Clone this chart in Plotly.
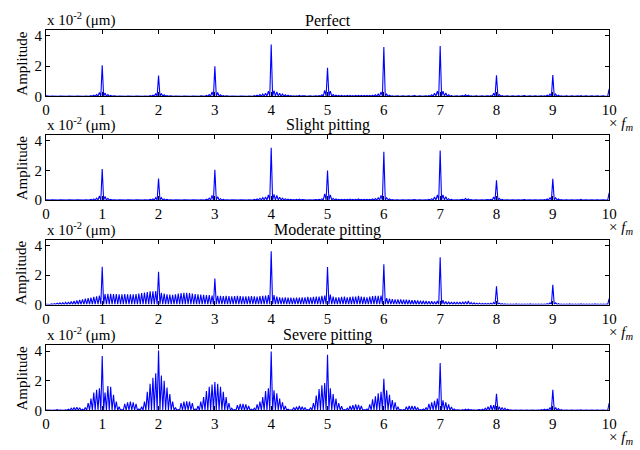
import numpy as np
import plotly.graph_objects as go

# Spectrum sampled at the sideband spacing (multiples of the mesh frequency f_m)
STEP = 0.05
FREQ = np.round(np.arange(201) * STEP, 3)
FLOOR = 0.01  # level the trace returns to between neighbouring sidebands

TITLES = ["Perfect", "Slight pitting", "Moderate pitting", "Severe pitting"]
X_TICKS = list(range(0, 11))
Y_TICKS = [0, 2, 4]

# Sideband peak amplitudes (x 10^-2 um), one row per mesh order
perfect = [
    0.03, 0.02, 0.02, 0.02, 0.02, 0.02, 0.02, 0.02, 0.02, 0.02, 0.02, 0.02, 0.02, 0.03, 0.02, 0.03, 0.05, 0.08, 0.12, 0.25,
    2.05, 0.22, 0.12, 0.06, 0.03, 0.02, 0.02, 0.02, 0.02, 0.02, 0.02, 0.02, 0.02, 0.02, 0.02, 0.02, 0.03, 0.05, 0.08, 0.18,
    1.38, 0.18, 0.10, 0.05, 0.03, 0.02, 0.02, 0.02, 0.02, 0.02, 0.02, 0.02, 0.02, 0.02, 0.02, 0.03, 0.04, 0.06, 0.12, 0.30,
    1.98, 0.25, 0.10, 0.05, 0.03, 0.02, 0.02, 0.02, 0.02, 0.02, 0.02, 0.02, 0.02, 0.03, 0.05, 0.08, 0.12, 0.15, 0.20, 0.35,
    3.42, 0.38, 0.30, 0.20, 0.15, 0.10, 0.08, 0.05, 0.04, 0.04, 0.06, 0.04, 0.03, 0.03, 0.03, 0.03, 0.04, 0.05, 0.10, 0.40,
    1.88, 0.35, 0.12, 0.08, 0.06, 0.06, 0.05, 0.06, 0.06, 0.05, 0.06, 0.07, 0.06, 0.06, 0.07, 0.06, 0.08, 0.10, 0.15, 0.30,
    3.25, 0.15, 0.08, 0.04, 0.03, 0.03, 0.03, 0.03, 0.03, 0.03, 0.03, 0.06, 0.03, 0.03, 0.03, 0.03, 0.05, 0.10, 0.20, 0.35,
    3.32, 0.35, 0.22, 0.10, 0.05, 0.03, 0.03, 0.03, 0.05, 0.10, 0.08, 0.04, 0.03, 0.03, 0.03, 0.03, 0.03, 0.04, 0.05, 0.20,
    1.39, 0.12, 0.05, 0.03, 0.03, 0.03, 0.03, 0.03, 0.03, 0.03, 0.05, 0.03, 0.03, 0.03, 0.03, 0.03, 0.03, 0.04, 0.08, 0.15,
    1.40, 0.15, 0.08, 0.04, 0.03, 0.03, 0.03, 0.03, 0.03, 0.03, 0.05, 0.03, 0.03, 0.03, 0.03, 0.03, 0.03, 0.03, 0.03, 0.03,
    0.50,
]

slight = [
    0.03, 0.02, 0.02, 0.02, 0.02, 0.02, 0.02, 0.02, 0.02, 0.02, 0.02, 0.02, 0.02, 0.02, 0.03, 0.03, 0.05, 0.09, 0.14, 0.28,
    2.10, 0.25, 0.13, 0.06, 0.03, 0.02, 0.02, 0.02, 0.02, 0.02, 0.02, 0.02, 0.02, 0.02, 0.02, 0.02, 0.03, 0.05, 0.08, 0.17,
    1.46, 0.17, 0.09, 0.05, 0.03, 0.02, 0.02, 0.02, 0.02, 0.02, 0.02, 0.02, 0.02, 0.02, 0.02, 0.03, 0.04, 0.07, 0.14, 0.32,
    2.06, 0.24, 0.10, 0.05, 0.03, 0.02, 0.02, 0.02, 0.02, 0.02, 0.02, 0.02, 0.02, 0.03, 0.05, 0.08, 0.13, 0.17, 0.22, 0.36,
    3.54, 0.40, 0.32, 0.20, 0.14, 0.10, 0.07, 0.05, 0.04, 0.05, 0.07, 0.04, 0.03, 0.03, 0.03, 0.03, 0.04, 0.05, 0.10, 0.42,
    2.00, 0.36, 0.12, 0.08, 0.06, 0.05, 0.05, 0.06, 0.07, 0.05, 0.06, 0.08, 0.06, 0.06, 0.06, 0.06, 0.08, 0.11, 0.16, 0.32,
    3.27, 0.16, 0.08, 0.04, 0.03, 0.03, 0.03, 0.03, 0.03, 0.03, 0.03, 0.05, 0.03, 0.03, 0.03, 0.03, 0.05, 0.10, 0.22, 0.36,
    3.36, 0.36, 0.23, 0.10, 0.05, 0.03, 0.03, 0.03, 0.06, 0.12, 0.08, 0.04, 0.03, 0.03, 0.03, 0.03, 0.03, 0.04, 0.06, 0.22,
    1.34, 0.12, 0.05, 0.03, 0.03, 0.03, 0.03, 0.03, 0.03, 0.03, 0.05, 0.03, 0.03, 0.03, 0.03, 0.03, 0.03, 0.04, 0.08, 0.16,
    1.44, 0.16, 0.08, 0.04, 0.03, 0.03, 0.03, 0.03, 0.03, 0.03, 0.05, 0.03, 0.03, 0.03, 0.03, 0.03, 0.03, 0.03, 0.03, 0.03,
    0.50,
]

moderate = [
    0.02, 0.03, 0.05, 0.07, 0.10, 0.12, 0.14, 0.16, 0.18, 0.21, 0.25, 0.28, 0.32, 0.36, 0.40, 0.44, 0.48, 0.52, 0.57, 0.62,
    2.57, 0.72, 0.74, 0.73, 0.72, 0.72, 0.70, 0.70, 0.72, 0.70, 0.70, 0.70, 0.72, 0.75, 0.78, 0.82, 0.86, 0.90, 0.90, 0.92,
    2.24, 0.80, 0.75, 0.70, 0.68, 0.66, 0.70, 0.75, 0.78, 0.80, 0.80, 0.78, 0.75, 0.72, 0.70, 0.68, 0.66, 0.65, 0.64, 0.62,
    1.77, 0.60, 0.60, 0.58, 0.60, 0.58, 0.57, 0.58, 0.60, 0.58, 0.57, 0.56, 0.56, 0.58, 0.56, 0.55, 0.58, 0.60, 0.62, 0.65,
    3.62, 0.65, 0.55, 0.50, 0.48, 0.50, 0.48, 0.47, 0.46, 0.48, 0.48, 0.50, 0.50, 0.52, 0.50, 0.52, 0.55, 0.55, 0.60, 0.62,
    2.55, 0.68, 0.55, 0.50, 0.50, 0.52, 0.55, 0.50, 0.52, 0.55, 0.55, 0.60, 0.55, 0.52, 0.50, 0.55, 0.58, 0.60, 0.60, 0.62,
    2.75, 0.45, 0.40, 0.38, 0.36, 0.35, 0.35, 0.34, 0.33, 0.32, 0.30, 0.30, 0.28, 0.27, 0.26, 0.25, 0.24, 0.23, 0.22, 0.25,
    3.22, 0.30, 0.22, 0.20, 0.18, 0.18, 0.18, 0.18, 0.20, 0.22, 0.25, 0.15, 0.12, 0.10, 0.10, 0.08, 0.08, 0.08, 0.10, 0.15,
    1.24, 0.10, 0.06, 0.05, 0.04, 0.04, 0.04, 0.05, 0.04, 0.04, 0.04, 0.04, 0.05, 0.04, 0.04, 0.04, 0.04, 0.04, 0.06, 0.12,
    1.35, 0.12, 0.06, 0.04, 0.04, 0.04, 0.05, 0.04, 0.04, 0.04, 0.05, 0.04, 0.04, 0.04, 0.04, 0.05, 0.04, 0.04, 0.04, 0.04,
    0.40,
]

severe = [
    0.02, 0.02, 0.02, 0.03, 0.05, 0.03, 0.02, 0.04, 0.08, 0.15, 0.20, 0.22, 0.18, 0.08, 0.20, 0.50, 0.80, 1.20, 1.40, 1.50,
    3.67, 1.20, 1.65, 1.60, 1.05, 0.60, 0.25, 0.05, 0.45, 0.55, 0.60, 0.55, 0.45, 0.10, 0.25, 0.60, 1.25, 1.80, 2.20, 2.50,
    4.05, 2.35, 2.00, 1.55, 1.10, 0.60, 0.20, 0.05, 0.50, 0.60, 0.62, 0.60, 0.50, 0.10, 0.30, 0.60, 0.90, 1.30, 1.60, 1.75,
    1.92, 1.80, 1.60, 1.25, 0.90, 0.50, 0.15, 0.05, 0.35, 0.45, 0.45, 0.40, 0.30, 0.08, 0.15, 0.40, 0.60, 0.90, 1.30, 1.50,
    3.97, 1.35, 1.15, 0.80, 0.55, 0.30, 0.08, 0.04, 0.20, 0.25, 0.30, 0.25, 0.20, 0.05, 0.20, 0.50, 1.00, 1.45, 1.70, 1.85,
    3.75, 1.50, 1.10, 0.80, 0.50, 0.28, 0.05, 0.15, 0.30, 0.35, 0.40, 0.38, 0.30, 0.05, 0.10, 0.40, 0.75, 0.95, 1.15, 1.25,
    2.14, 1.35, 1.05, 0.70, 0.55, 0.25, 0.05, 0.05, 0.25, 0.30, 0.30, 0.28, 0.20, 0.05, 0.10, 0.20, 0.45, 0.55, 0.65, 0.80,
    3.20, 0.68, 0.55, 0.40, 0.24, 0.10, 0.04, 0.03, 0.06, 0.08, 0.08, 0.06, 0.04, 0.03, 0.05, 0.08, 0.15, 0.25, 0.35, 0.35,
    1.12, 0.25, 0.20, 0.15, 0.08, 0.04, 0.03, 0.03, 0.03, 0.03, 0.03, 0.03, 0.03, 0.03, 0.03, 0.03, 0.05, 0.08, 0.08, 0.20,
    1.39, 0.20, 0.12, 0.05, 0.03, 0.03, 0.03, 0.03, 0.03, 0.03, 0.04, 0.03, 0.03, 0.03, 0.03, 0.03, 0.03, 0.03, 0.03, 0.03,
    0.50,
]

SERIES = [perfect, slight, moderate, severe]

W, H = 640, 450
PLOT_LEFT, PLOT_RIGHT = 42.7, 616.7
PANEL_PX = [(28.3, 96.5), (136.0, 202.7), (243.3, 309.5), (351.0, 417.7)]
FONT = "Liberation Serif, Times New Roman, serif"


def spike_trace(peaks):
    xs, ys = [], []
    n = len(peaks)
    for i in range(n):
        xs.append(FREQ[i])
        ys.append(peaks[i])
        if i < n - 1:
            xs.append(FREQ[i] + STEP / 2)
            ys.append(FLOOR)
    return xs, ys


fig = go.Figure()
layout = dict(
    width=W, height=H,
    margin=dict(l=0, r=0, t=0, b=0),
    paper_bgcolor="white", plot_bgcolor="white",
    showlegend=False,
    font=dict(family=FONT, size=15, color="black"),
)
annotations = []

for i, (peaks, title) in enumerate(zip(SERIES, TITLES)):
    n = i + 1
    xa = "x" if n == 1 else f"x{n}"
    ya = "y" if n == 1 else f"y{n}"
    xs, ys = spike_trace(peaks)
    fig.add_trace(go.Scatter(
        x=xs, y=ys, mode="lines", xaxis=xa, yaxis=ya,
        line=dict(color="#0000FF", width=1.1), hoverinfo="skip",
    ))
    top, bot = PANEL_PX[i]
    axis_common = dict(
        showline=True, linecolor="black", linewidth=1, mirror="ticks",
        ticks="inside", ticklen=4, tickwidth=1, tickcolor="black",
        showgrid=False, zeroline=False,
        tickfont=dict(family=FONT, size=15, color="black"),
    )
    layout["xaxis" if n == 1 else f"xaxis{n}"] = dict(
        axis_common, domain=[PLOT_LEFT / W, PLOT_RIGHT / W],
        range=[0, 10], tickvals=X_TICKS, ticktext=[str(t) for t in X_TICKS],
        anchor=ya,
    )
    layout["yaxis" if n == 1 else f"yaxis{n}"] = dict(
        axis_common, domain=[1 - bot / H, 1 - top / H],
        range=[0, 4.4], tickvals=Y_TICKS, ticktext=[str(t) for t in Y_TICKS],
        anchor=xa,
    )
    xd = f"{xa} domain"
    yd = f"{ya} domain"
    annotations.append(dict(
        text=title, xref=xd, yref=yd, x=0.5, y=1, yanchor="bottom",
        xanchor="center", yshift=-1, showarrow=False,
        font=dict(family=FONT, size=16, color="black"),
    ))
    annotations.append(dict(
        text="x 10<sup>-2</sup> (\u03bcm)", xref=xd, yref=yd, x=0, y=1,
        xanchor="left", yanchor="bottom", xshift=-1, yshift=-1, showarrow=False,
        font=dict(family=FONT, size=15, color="black"),
    ))
    annotations.append(dict(
        text="Amplitude", xref="paper", yref=yd, x=18 / W, y=0.5,
        xanchor="center", yanchor="middle", textangle=-90, showarrow=False,
        font=dict(family=FONT, size=15, color="black"),
    ))
    annotations.append(dict(
        text="\u00d7 <i>f</i><sub><i>m</i></sub>", xref="paper", yref=yd,
        x=615 / W, y=0, xanchor="left", yanchor="middle", yshift=-28,
        showarrow=False, font=dict(family=FONT, size=15, color="black"),
    ))

layout["annotations"] = annotations
fig.update_layout(**layout)
fig.write_html("out.html")
